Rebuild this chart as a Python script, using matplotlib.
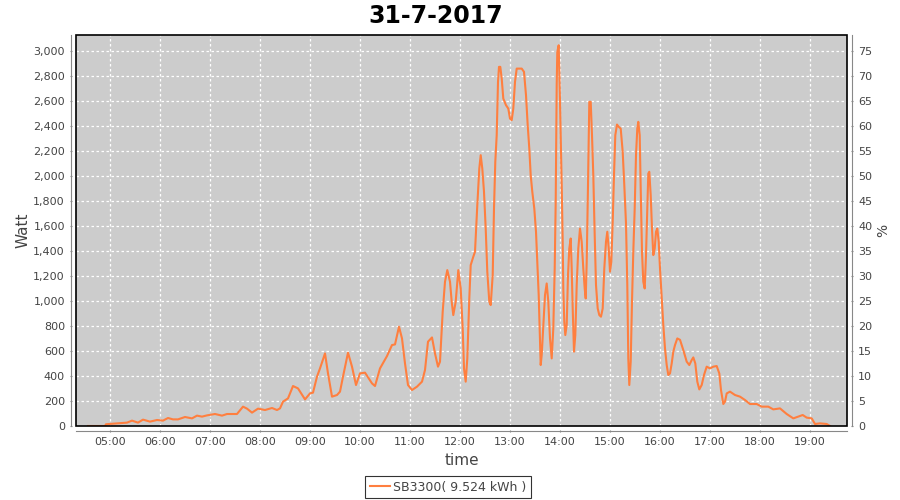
import numpy as np
import matplotlib
matplotlib.use("Agg")
import matplotlib.pyplot as plt
from matplotlib.patches import Rectangle
from matplotlib.ticker import FuncFormatter, MultipleLocator

# time of day in decimal hours, power in watt
hours = [4.56, 4.90, 4.92, 5.34, 5.44, 5.56, 5.66, 5.80, 5.94, 6.06, 6.16, 6.26, 6.36,
         6.50, 6.64, 6.74, 6.84, 6.94, 7.10, 7.24, 7.34, 7.54, 7.66, 7.74, 7.84, 7.96,
         8.10, 8.24, 8.34, 8.40, 8.46, 8.56, 8.66, 8.76, 8.90, 9.00, 9.06, 9.14, 9.20,
         9.30, 9.36, 9.44, 9.54, 9.60, 9.66, 9.76, 9.84, 9.92, 10.00, 10.10, 10.24, 10.30,
         10.40, 10.54, 10.64, 10.70, 10.78, 10.84, 10.90, 10.96, 11.04, 11.14, 11.24,
         11.30, 11.36, 11.44, 11.50, 11.56, 11.60, 11.654, 11.70, 11.746, 11.80, 11.834,
         11.866, 11.914, 11.966, 12.014, 12.054, 12.08, 12.114, 12.146, 12.186, 12.214,
         12.266, 12.30, 12.32, 12.346, 12.386, 12.414, 12.446, 12.48, 12.514, 12.546,
         12.586, 12.614, 12.654, 12.68, 12.706, 12.734, 12.76, 12.78, 12.806, 12.834,
         12.866, 12.92, 12.966, 13.00, 13.034, 13.066, 13.10, 13.134, 13.18, 13.234,
         13.28, 13.32, 13.354, 13.386, 13.414, 13.446, 13.486, 13.52, 13.546, 13.574,
         13.594, 13.614, 13.634, 13.666, 13.70, 13.734, 13.766, 13.80, 13.834, 13.866,
         13.894, 13.914, 13.934, 13.946, 13.974, 14.00, 14.034, 14.054, 14.066, 14.086,
         14.106, 14.134, 14.16, 14.186, 14.214, 14.234, 14.254, 14.28, 14.306, 14.334,
         14.366, 14.40, 14.434, 14.466, 14.494, 14.514, 14.534, 14.56, 14.586, 14.614,
         14.64, 14.666, 14.694, 14.72, 14.754, 14.786, 14.82, 14.854, 14.886, 14.92,
         14.946, 14.974, 15.00, 15.026, 15.054, 15.08, 15.106, 15.14, 15.174, 15.214,
         15.254, 15.286, 15.32, 15.346, 15.366, 15.386, 15.414, 15.44, 15.466, 15.494,
         15.52, 15.546, 15.566, 15.594, 15.614, 15.64, 15.666, 15.694, 15.72, 15.746,
         15.766, 15.786, 15.814, 15.84, 15.866, 15.894, 15.92, 15.946, 15.974, 16.00,
         16.034, 16.066, 16.10, 16.134, 16.166, 16.20, 16.234, 16.266, 16.30, 16.346,
         16.40, 16.466, 16.534, 16.586, 16.634, 16.666, 16.706, 16.746, 16.786, 16.834,
         16.88, 16.934, 17.00, 17.066, 17.134, 17.186, 17.22, 17.266, 17.30, 17.334,
         17.40, 17.50, 17.60, 17.70, 17.80, 17.934, 18.034, 18.166, 18.266, 18.40,
         18.534, 18.666, 18.766, 18.854, 18.934, 19.034, 19.10, 19.20, 19.334, 19.40]
watt = [0, 0, 14, 27, 43, 27, 51, 35, 48, 43, 64, 53, 53,
        72, 61, 83, 75, 85, 96, 83, 96, 96, 155, 139, 107, 139,
        128, 144, 128, 141, 195, 221, 320, 301, 213, 261, 267, 395, 461,
        581, 421, 235, 248, 275, 395, 587, 475, 328, 421, 427, 341, 320,
        461, 560, 648, 653, 795, 701, 501, 328, 288, 315, 355,
        448, 675, 709, 581, 475, 515, 915, 1155, 1248, 1155, 995,
        888, 995, 1248, 1101, 781, 461, 355, 541, 1021, 1288,
        1355, 1395, 1555, 1768, 2061, 2168, 2061, 1875, 1581, 1235,
        995, 968, 1208, 1741, 2115, 2328, 2755, 2875, 2875, 2781,
        2621, 2568, 2541, 2461, 2448, 2541, 2755, 2861, 2861, 2861,
        2835, 2648, 2408, 2221, 2008, 1875, 1741, 1555, 1315, 1048,
        781, 488, 568, 808, 1048, 1141, 995, 701, 541, 781,
        1261, 1795, 2728, 2995, 3048, 2600, 1928, 1475, 1101, 835,
        728, 808, 1208, 1421, 1501, 1261, 941, 595, 728, 1128,
        1421, 1581, 1475, 1261, 1101, 1021, 1315, 1928, 2595, 2595,
        2328, 2008, 1528, 1128, 941, 888, 875, 941, 1261, 1475,
        1555, 1421, 1235, 1315, 1635, 2008, 2328, 2413, 2395, 2381,
        2195, 1928, 1621, 1128, 541, 328, 515, 995, 1395, 1741,
        2168, 2381, 2435, 2328, 1901, 1395, 1155, 1101, 1368, 1741,
        2021, 2035, 1848, 1581, 1368, 1421, 1555, 1581, 1475, 1261,
        1021, 808, 621, 488, 408, 421, 501, 595, 648, 701,
        690, 608, 515, 488, 528, 549, 501, 355, 293, 328,
        408, 475, 461, 475, 480, 421, 288, 176, 195, 261,
        275, 248, 235, 208, 176, 176, 155, 155, 133, 141,
        96, 61, 75, 88, 67, 61, 16, 21, 16, 0]

title = "31-7-2017"
series_name = "SB3300( 9.524 kWh )"
hour_ticks = list(range(5, 20))

orange = "#FF7F3F"
grey_axis = "#888888"
text_col = "#444444"

fig = plt.figure(figsize=(9, 5), dpi=100)
ax = fig.add_axes([76 / 900, 1 - 426 / 500, 771 / 900, 391 / 500])
ax.set_facecolor("#CCCCCC")

ln, = ax.plot(hours, watt, color=orange, lw=1.5, label=series_name, zorder=3)

ymax = 3130
ax.set_xlim(4.32, 19.74)
ax.set_ylim(0, ymax)
ax.set_xticks(hour_ticks)
ax.set_xticklabels(["%02d:00" % h for h in hour_ticks])
ax.yaxis.set_major_locator(MultipleLocator(200))
ax.yaxis.set_major_formatter(FuncFormatter(lambda v, p: "{:,.0f}".format(v)))
ax.grid(True, color="white", linestyle=(0, (2, 2)), linewidth=0.9)
ax.set_axisbelow(True)

for s in ["top", "right"]:
    ax.spines[s].set_visible(False)
for s in ["left", "bottom"]:
    ax.spines[s].set_position(("outward", 3.5))
    ax.spines[s].set_color(grey_axis)
ax.tick_params(axis="both", colors=grey_axis, labelcolor=text_col, labelsize=8,
               length=2, width=0.8, direction="inout")

ax.set_xlabel("time", fontsize=11, color=text_col, labelpad=4)
ax.set_ylabel("Watt", fontsize=11, color=text_col, labelpad=2)

# right axis in percent
ax2 = ax.twinx()
ax2.set_ylim(0, ymax / 40)
ax2.yaxis.set_major_locator(MultipleLocator(5))
for s in ["top", "left", "bottom"]:
    ax2.spines[s].set_visible(False)
ax2.spines["right"].set_position(("outward", 3.5))
ax2.spines["right"].set_color(grey_axis)
ax2.tick_params(axis="y", colors=grey_axis, labelcolor=text_col, labelsize=8,
                length=2, width=0.8, direction="inout")
ax2.set_ylabel("%", fontsize=10, color=text_col, labelpad=3)

# black plot outline
ax.add_patch(Rectangle((0, 0), 1, 1, transform=ax.transAxes, fill=False,
                       edgecolor="black", lw=1.2, clip_on=False, zorder=5))

fig.suptitle(title, x=435.5 / 900, y=0.992, fontsize=17, fontweight="bold")

leg = fig.legend(handles=[ln], loc="center", bbox_to_anchor=(448 / 900, 1 - 487 / 500),
                 fontsize=9, frameon=True, fancybox=False, handlelength=1.6,
                 handletextpad=0.3, borderpad=0.35)
leg.get_frame().set_edgecolor("black")
leg.get_frame().set_linewidth(0.8)
for t in leg.get_texts():
    t.set_color(text_col)

fig.savefig("out.png", dpi=100)
